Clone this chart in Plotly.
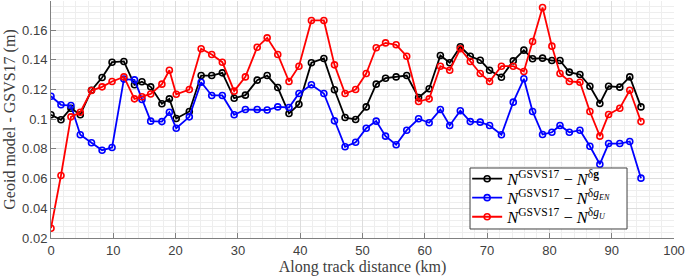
import plotly.graph_objects as go

distance_km = [0, 1.6, 3.2, 4.7, 6.5, 8.2, 9.8, 11.7, 13.4, 14.6, 16.0, 17.8, 19.0, 20.1,
               22.2, 24.1, 25.8, 27.5, 29.4, 31.2, 33.1, 34.7, 36.4, 38.2, 39.8, 41.8,
               43.8, 45.5, 47.2, 48.9, 50.6, 52.2, 53.7, 55.4, 57.1, 59.0, 60.7, 62.5,
               64.0, 65.7, 67.3, 68.9, 70.4, 72.3, 74.2, 75.9, 77.3, 78.9, 80.4, 81.7,
               83.2, 84.9, 86.5, 88.1, 89.5, 91.3, 92.9, 94.7]

diff_dg = [0.1030, 0.0996, 0.1074, 0.1030, 0.1195, 0.1281, 0.1384, 0.1389, 0.1232, 0.1252,
           0.1218, 0.1104, 0.1137, 0.1005, 0.1052, 0.1294, 0.1294, 0.1312, 0.1141, 0.1162,
           0.1263, 0.1294, 0.1213, 0.1038, 0.1101, 0.1380, 0.1409, 0.1198, 0.1011, 0.0998,
           0.1083, 0.1236, 0.1276, 0.1285, 0.1294, 0.1146, 0.1205, 0.1429, 0.1380, 0.1488,
           0.1424, 0.1397, 0.1330, 0.1283, 0.1393, 0.1465, 0.1407, 0.1411, 0.1395, 0.1395,
           0.1317, 0.1301, 0.1222, 0.1106, 0.1222, 0.1216, 0.1285, 0.1083]

diff_dgEN = [0.1155, 0.1097, 0.1092, 0.0895, 0.0841, 0.0791, 0.0809, 0.1270, 0.1265, 0.1133,
             0.0987, 0.0984, 0.1047, 0.0939, 0.1016, 0.1249, 0.1160, 0.1160, 0.1030, 0.1065,
             0.1065, 0.1062, 0.1083, 0.1079, 0.1173, 0.1232, 0.1173, 0.0989, 0.0814, 0.0845,
             0.0939, 0.0987, 0.0886, 0.0828, 0.0926, 0.1003, 0.0976, 0.1065, 0.0958, 0.1057,
             0.0984, 0.0980, 0.0958, 0.0895, 0.1115, 0.1272, 0.1052, 0.0897, 0.0912, 0.0958,
             0.0912, 0.0926, 0.0818, 0.0697, 0.0836, 0.0836, 0.0850, 0.0603]

diff_dgU = [0.0266, 0.0621, 0.1016, 0.1047, 0.1193, 0.1218, 0.1254, 0.1285, 0.1137, 0.1151,
            0.1170, 0.1236, 0.1330, 0.1168, 0.1200, 0.1474, 0.1436, 0.1384, 0.1189, 0.1285,
            0.1485, 0.1548, 0.1436, 0.1254, 0.1357, 0.1665, 0.1665, 0.1366, 0.1173, 0.1200,
            0.1308, 0.1481, 0.1514, 0.1501, 0.1424, 0.1119, 0.1137, 0.1357, 0.1330, 0.1474,
            0.1389, 0.1308, 0.1254, 0.1357, 0.1357, 0.1321, 0.1523, 0.1752, 0.1492, 0.1308,
            0.1254, 0.1249, 0.1052, 0.0886, 0.1032, 0.1074, 0.1195, 0.0984]

y_ticks = [0.02, 0.04, 0.06, 0.08, 0.10, 0.12, 0.14, 0.16]
y_tick_labels = ["0.02", "0.04", "0.06", "0.08", "0.1", "0.12", "0.14", "0.16"]

series = [
    ("<i>N</i><sup>GSVS17</sup> − <i>N</i><sup>δ<b>g</b></sup>", diff_dg, "#000000", "legend"),
    ("<i>N</i><sup>GSVS17</sup> − <i>N</i><sup>δ<i>g</i><sub><i>EN</i></sub></sup>", diff_dgEN, "#0000ff", "legend2"),
    ("<i>N</i><sup>GSVS17</sup> − <i>N</i><sup>δ<i>g</i><sub><i>U</i></sub></sup>", diff_dgU, "#ff0000", "legend3"),
]

fig = go.Figure()
for name, vals, col, leg in series:
    fig.add_trace(go.Scatter(
        x=distance_km, y=vals, name=name, mode="lines+markers", legend=leg,
        line=dict(color=col, width=1.8),
        marker=dict(symbol="circle-open", size=6, color=col, line=dict(width=1.6, color=col)),
    ))

serif = "Liberation Serif, Times New Roman, serif"
axis_col = "#808080"


def leg_style(ycenter):
    return dict(x=0.668, y=ycenter, xanchor="left", yanchor="middle",
                bgcolor="rgba(0,0,0,0)", borderwidth=0,
                font=dict(family=serif, size=16.5, color="#000000"),
                tracegroupgap=0, itemwidth=30)


fig.update_layout(
    width=685, height=278,
    margin=dict(l=51, r=11, t=1, b=40),
    paper_bgcolor="white", plot_bgcolor="white",
    font=dict(family="Liberation Sans, Arial, sans-serif", size=13, color="#404040"),
    showlegend=True,
    legend=leg_style(0.249),
    legend2=leg_style(0.169),
    legend3=leg_style(0.0886),
    shapes=[dict(type="rect", xref="paper", yref="paper",
                 x0=0.6726, x1=0.9246, y0=0.038, y1=0.2954,
                 fillcolor="white", line=dict(color="#404040", width=1), layer="above")],
)
fig.update_xaxes(
    range=[0, 100], dtick=10, tick0=0, automargin=False,
    ticks="inside", ticklen=5, tickcolor=axis_col,
    showline=True, linecolor=axis_col, linewidth=1, mirror=False,
    showgrid=True, gridcolor="#dddddd", gridwidth=1, zeroline=False,
    minor=dict(dtick=2, tick0=0, showgrid=True, gridcolor="#eeeeee", gridwidth=1),
    title=dict(text="Along track distance (km)", font=dict(family=serif, size=16, color="#404040"), standoff=2),
)
fig.update_yaxes(
    range=[0.02, 0.1796], tickvals=y_ticks, ticktext=y_tick_labels, automargin=False,
    ticks="inside", ticklen=5, tickcolor=axis_col,
    showline=True, linecolor=axis_col, linewidth=1, mirror=False,
    showgrid=True, gridcolor="#dddddd", gridwidth=1, zeroline=False,
    minor=dict(dtick=0.004, tick0=0.02, showgrid=True, gridcolor="#eeeeee", gridwidth=1),
    title=dict(text="Geoid model - GSVS17 (m)", font=dict(family=serif, size=16, color="#404040"), standoff=2),
)

fig.write_html("out.html", config={"displayModeBar": False},
               post_script="document.body.style.margin='0';document.body.style.overflow='hidden';")
